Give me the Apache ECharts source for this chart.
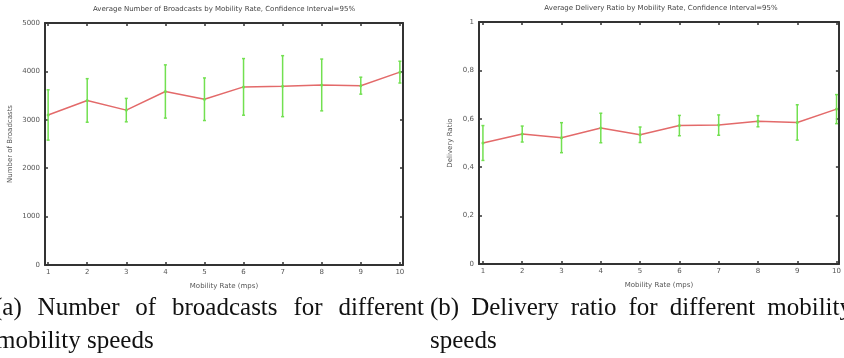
<!DOCTYPE html>
<html><head><meta charset="utf-8">
<script src="https://cdn.jsdelivr.net/npm/echarts@6/dist/echarts.min.js"></script>
<style>html,body{margin:0;padding:0;background:#fff}#c{width:844px;height:358px}</style>
</head><body><div id="c"></div>
<script>
// ---- data ----
const mobility = [1, 2, 3, 4, 5, 6, 7, 8, 9, 10];
const bcMean = [3100, 3400, 3200, 3585, 3425, 3680, 3695, 3720, 3705, 3985];
const bcErr  = [520, 450, 242, 550, 440, 585, 630, 535, 175, 225];
const drMean = [0.500, 0.537, 0.522, 0.562, 0.534, 0.572, 0.574, 0.590, 0.585, 0.640];
const drErr  = [0.072, 0.033, 0.062, 0.061, 0.032, 0.042, 0.042, 0.023, 0.073, 0.060];
const bcTicks = [0, 1000, 2000, 3000, 4000, 5000];
const drTicks = [0, 0.2, 0.4, 0.6, 0.8, 1];
const drTickLabels = ['0', '0,2', '0,4', '0,6', '0,8', '1'];
const titleA = 'Average Number of Broadcasts by Mobility Rate, Confidence Interval=95%';
const titleB = 'Average Delivery Ratio by Mobility Rate, Confidence Interval=95%';
const xName = 'Mobility Rate (mps)';
const yNameA = 'Number of Broadcasts';
const yNameB = 'Delivery Ratio';
const capA1 = ['(a)', 'Number', 'of', 'broadcasts', 'for', 'different'];
const capA2 = ['mobility', 'speeds'];
const capB1 = ['(b)', 'Delivery', 'ratio', 'for', 'different', 'mobility'];
const capB2 = ['speeds'];

// ---- styling / layout ----
const RED = '#e36a6a', GREEN = '#72e050', AXIS = '#333', LBL = '#555';
const FONT = 'DejaVu Sans';
const CAP_FONT = '25px "Liberation Serif"';
const lblStyle = {fontFamily: FONT, fontSize: 7, color: LBL};

function bottomX(grid) {
  return {
    type: 'value', gridIndex: grid, position: 'bottom',
    min: grid === 0 ? 0.92 : 0.90, max: grid === 0 ? 10.08 : 10.06,
    axisLine: {show: true, onZero: false, lineStyle: {color: AXIS, width: 2}},
    axisTick: {show: true, inside: true, length: 3, customValues: mobility, lineStyle: {color: AXIS, width: 1.5}},
    axisLabel: Object.assign({show: true, margin: 4, customValues: mobility}, lblStyle),
    splitLine: {show: false},
    name: xName, nameLocation: 'middle', nameGap: 18,
    nameTextStyle: {fontFamily: FONT, fontSize: 7, color: LBL}
  };
}
function topX(grid) {
  const a = bottomX(grid);
  a.position = 'top';
  a.axisLabel = {show: false};
  a.name = '';
  return a;
}
function leftY(grid) {
  const isA = grid === 0;
  const ticks = isA ? bcTicks : drTicks;
  return {
    type: 'value', gridIndex: grid, position: 'left',
    min: ticks[0], max: ticks[ticks.length - 1], interval: ticks[1] - ticks[0],
    axisLine: {show: true, onZero: false, lineStyle: {color: AXIS, width: 2}},
    axisTick: {show: true, inside: true, length: 3, lineStyle: {color: AXIS, width: 1.5}},
    axisLabel: Object.assign({show: true, margin: 5, formatter: v => {
      if (isA) return String(v);
      let best = 0;
      ticks.forEach((t, i) => { if (Math.abs(t - v) < Math.abs(ticks[best] - v)) best = i; });
      return drTickLabels[best];
    }}, lblStyle),
    splitLine: {show: false},
    name: isA ? yNameA : yNameB, nameLocation: 'middle', nameGap: isA ? 31 : 25,
    nameTextStyle: {fontFamily: FONT, fontSize: 7, color: LBL}
  };
}
function rightY(grid) {
  const a = leftY(grid);
  a.position = 'right';
  a.axisLabel = {show: false};
  a.name = '';
  return a;
}

function errSeries(xi, yi, mean, err) {
  return {
    type: 'custom', xAxisIndex: xi, yAxisIndex: yi, z: 3,
    data: mobility.map((x, i) => [x, mean[i] - err[i], mean[i] + err[i]]),
    encode: {x: 0, y: [1, 2]},
    renderItem: (params, api) => {
      const x = api.value(0);
      const p1 = api.coord([x, api.value(1)]);
      const p2 = api.coord([x, api.value(2)]);
      const st = {stroke: GREEN, lineWidth: 1.5};
      return {type: 'group', children: [
        {type: 'line', shape: {x1: p1[0], y1: p1[1], x2: p2[0], y2: p2[1]}, style: st},
        {type: 'line', shape: {x1: p1[0] - 1.5, y1: p1[1], x2: p1[0] + 1.5, y2: p1[1]}, style: st},
        {type: 'line', shape: {x1: p2[0] - 1.5, y1: p2[1], x2: p2[0] + 1.5, y2: p2[1]}, style: st}
      ]};
    }
  };
}
function lineSeries(xi, yi, mean) {
  return {
    type: 'line', xAxisIndex: xi, yAxisIndex: yi, z: 4,
    data: mobility.map((x, i) => [x, mean[i]]),
    symbol: 'circle', symbolSize: 3, showSymbol: true,
    itemStyle: {color: GREEN},
    lineStyle: {color: RED, width: 1.5},
    silent: true, animation: false
  };
}

// caption lines: justified (x1 given) or natural spacing (x1 null)
const mctx = document.createElement('canvas').getContext('2d');
mctx.font = CAP_FONT;
function words(list, x0, x1, y) {
  const ws = list.map(w => mctx.measureText(w).width);
  const total = ws.reduce((a, b) => a + b, 0);
  const space = mctx.measureText(' ').width;
  const gap = (x1 == null || list.length < 2) ? space : (x1 - x0 - total) / (list.length - 1);
  let x = x0;
  return list.map((w, i) => {
    const el = {
      type: 'text', x: x, y: y,
      style: {text: w, fill: '#111', font: CAP_FONT, align: 'left', verticalAlign: 'middle', textAlign: 'left', textVerticalAlign: 'middle'}
    };
    x += ws[i] + gap;
    return el;
  });
}

const option = {
  animation: false,
  backgroundColor: '#fff',
  title: [
    {text: titleA, left: 224, top: 6, textAlign: 'center', padding: 0,
     textStyle: {fontFamily: FONT, fontSize: 7, fontWeight: 'normal', color: '#444'}},
    {text: titleB, left: 661, top: 5, textAlign: 'center', padding: 0,
     textStyle: {fontFamily: FONT, fontSize: 7, fontWeight: 'normal', color: '#444'}}
  ],
  grid: [
    {left: 45, right: 441, top: 23, bottom: 93, containLabel: false},
    {left: 479, right: 3, top: 22, bottom: 94, containLabel: false}
  ],
  xAxis: [bottomX(0), topX(0), bottomX(1), topX(1)],
  yAxis: [leftY(0), rightY(0), leftY(1), rightY(1)],
  series: [
    errSeries(0, 0, bcMean, bcErr),
    lineSeries(0, 0, bcMean),
    errSeries(2, 2, drMean, drErr),
    lineSeries(2, 2, drMean)
  ],
  graphic: [].concat(
    words(capA1, -6, 424, 308),
    words(capA2, -4, null, 341),
    words(capB1, 430, 852, 308),
    words(capB2, 430, null, 341)
  )
};

const chart = echarts.init(document.getElementById('c'), null, {renderer: 'canvas'});
chart.setOption(option);
</script>
</body></html>
